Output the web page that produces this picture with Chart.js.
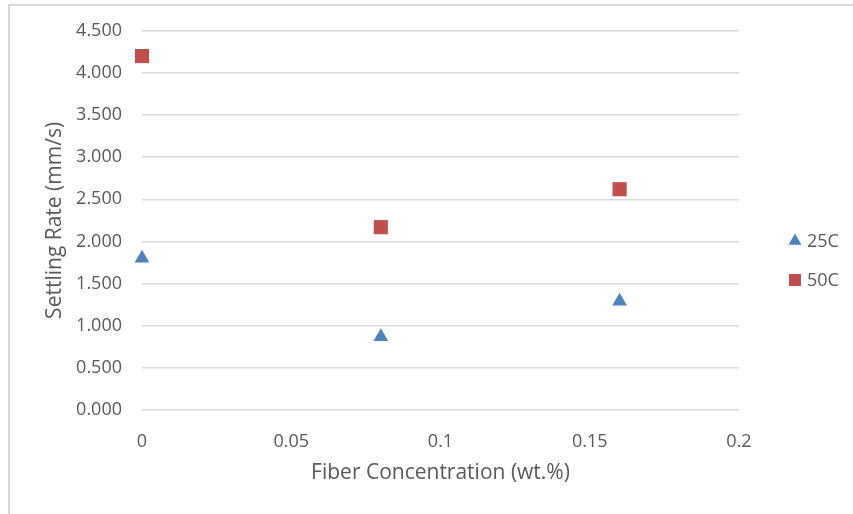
<!DOCTYPE html>
<html>
<head>
<meta charset="utf-8">
<script src="https://cdn.jsdelivr.net/npm/chart.js@4"></script>
<style>
  html, body { margin: 0; padding: 0; background: #fff; }
  #wrap { position: relative; width: 853px; height: 514px; overflow: hidden; }
  #frame { position: absolute; left: 8px; top: 4px; width: 900px; height: 600px; border: 2px solid #d9d9d9; box-sizing: border-box; }
  #chart { position: absolute; left: 0; top: 0; }
</style>
</head>
<body>
<div id="wrap">
  <div id="frame"></div>
  <canvas id="chart" width="853" height="514"></canvas>
</div>
<script>
  // fiber concentration (wt.%) vs settling rate (mm/s)
  const fiberConc  = [0, 0.08, 0.16];
  const rate25C    = [1.80, 0.87, 1.29];
  const rate50C    = [4.20, 2.17, 2.62];
  const seriesNames = ['25C', '50C'];
  const xTicks = [0, 0.05, 0.1, 0.15, 0.2];

  const BLUE = '#4f81bd', RED = '#c0504d', TXT = '#595959', GRID = '#d9d9d9';
  const FONT = '"Open Sans", sans-serif';

  const toPts = ys => fiberConc.map((x, i) => ({ x, y: ys[i] }));

  // simple legend on the right, drawn with the dataset styles
  const sideLegend = {
    id: 'sideLegend',
    afterDraw(chart) {
      const ctx = chart.ctx;
      const x0 = 795, yMid = 260.5, gap = 39;
      chart.data.datasets.forEach((ds, i) => {
        const y = yMid + (i - 0.5) * gap;
        ctx.save();
        ctx.fillStyle = ds.backgroundColor;
        ctx.strokeStyle = ds.backgroundColor;
        Chart.helpers.drawPoint(ctx, { pointStyle: ds.pointStyle, radius: ds.pointStyle === 'rect' ? 8.5 : 7.5, borderWidth: 0 }, x0, y);
        ctx.fillStyle = TXT;
        ctx.font = '18px ' + FONT;
        ctx.textBaseline = 'middle';
        ctx.fillText(ds.label, x0 + 12, y + 1);
        ctx.restore();
      });
    }
  };

  new Chart(document.getElementById('chart'), {
    type: 'scatter',
    data: {
      datasets: [
        { label: seriesNames[0], data: toPts(rate25C), pointStyle: 'triangle', pointRadius: 8.5,
          backgroundColor: BLUE, borderColor: BLUE, borderWidth: 0, clip: false },
        { label: seriesNames[1], data: toPts(rate50C), pointStyle: 'rect', pointRadius: 10,
          backgroundColor: RED, borderColor: RED, borderWidth: 0, clip: false },
      ]
    },
    options: {
      responsive: false, animation: false,
      layout: { padding: { left: 42, right: 114, top: 29, bottom: 28 } },
      plugins: { legend: { display: false }, tooltip: { enabled: false } },
      scales: {
        x: {
          type: 'linear', min: 0, max: 0.2,
          afterBuildTicks: s => { s.ticks = xTicks.map(v => ({ value: v })); },
          afterFit: s => { s.height = 76; },
          grid: { display: false },
          border: { display: false },
          ticks: { color: TXT, font: { family: FONT, size: 18 }, padding: 13, callback: v => String(+v.toFixed(2)) },
          title: { display: true, text: 'Fiber Concentration (wt.%)', color: TXT, font: { family: FONT, size: 21 }, padding: { top: 4, bottom: 0 } }
        },
        y: {
          min: 0, max: 4.5,
          ticks: { stepSize: 0.5, color: TXT, font: { family: FONT, size: 18 }, padding: 20, callback: v => v.toFixed(3) },
          afterFit: s => { s.width = 100; },
          grid: { color: GRID, lineWidth: 1.5, drawTicks: false },
          border: { display: false },
          title: { display: true, text: 'Settling Rate (mm/s)', color: TXT, font: { family: FONT, size: 21 }, padding: { top: 0, bottom: 4 } }
        }
      }
    },
    plugins: [sideLegend]
  });
</script>
</body>
</html>
